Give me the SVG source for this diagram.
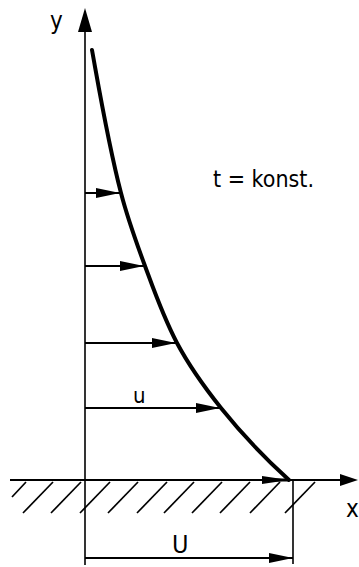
<svg xmlns="http://www.w3.org/2000/svg" width="359" height="567" viewBox="0 0 359 567">
<style>
.ax{stroke:#000;stroke-width:1.6;fill:none}
.vel{stroke:#000;stroke-width:2;fill:none}
.hatch{stroke:#000;stroke-width:1.7;fill:none}
.prof{stroke:#000;stroke-width:4;fill:none;stroke-linecap:round}
.lbl{font-family:"DejaVu Sans Condensed","DejaVu Sans",sans-serif;fill:#000}
</style>
<defs>
<marker id="ah" markerUnits="userSpaceOnUse" markerWidth="24" markerHeight="12" refX="24" refY="6" orient="auto"><path d="M0,1 L24,6 L0,11 Z" fill="#000"/></marker>
</defs>
<g id="connectors">
<line class="vel" x1="85" y1="193" x2="120" y2="193" marker-end="url(#ah)"/>
<line class="vel" x1="85" y1="266" x2="144" y2="266" marker-end="url(#ah)"/>
<line class="vel" x1="85" y1="343" x2="176" y2="343" marker-end="url(#ah)"/>
<line class="vel" x1="85" y1="408" x2="220" y2="408" marker-end="url(#ah)"/>
<line class="vel" x1="85" y1="558" x2="293" y2="558" marker-end="url(#ah)"/>
</g>
<g id="ground">
<line class="ax" x1="10" y1="480" x2="345" y2="480" style="stroke-width:2"/>
<polygon points="340,474 358,480 340,486" fill="#000"/>
<line x1="262" y1="480" x2="288" y2="480" stroke="#000" stroke-width="3"/>
<polygon points="262,476 289,480 262,484" fill="#000"/>
<g class="hatch">
<line x1="12" y1="497" x2="26" y2="482"/>
<line x1="23" y1="513" x2="53" y2="482"/>
<line x1="51" y1="513" x2="81" y2="482"/>
<line x1="80" y1="513" x2="110" y2="482"/>
<line x1="108" y1="513" x2="138" y2="482"/>
<line x1="137" y1="513" x2="167" y2="482"/>
<line x1="164" y1="513" x2="194" y2="482"/>
<line x1="192" y1="513" x2="222" y2="482"/>
<line x1="220" y1="513" x2="250" y2="482"/>
<line x1="250" y1="513" x2="280" y2="482"/>
<line x1="285" y1="513" x2="315" y2="482"/>
</g>
</g>
<g id="yaxis">
<line class="ax" x1="85" y1="28" x2="85" y2="565"/>
<polygon points="78,32 85,8 92,32" fill="#000"/>
</g>
<line id="ref" class="ax" x1="293" y1="480" x2="293" y2="564"/>
<g id="profile">
<path class="prof" d="M92,50 C100.6,97.7 108.6,145.3 121,193 C127.3,217.3 136,241.7 145,266 C154.5,291.7 163.4,317.3 177,343 C188.5,364.7 203.7,386.3 221,408 C240.2,432 262.6,456 289,480"/>
</g>
<g id="labels">
<text class="lbl" x="50" y="29" font-size="24">y</text>
<text class="lbl" x="346" y="517" font-size="24">x</text>
<text class="lbl" x="213" y="187" font-size="23">t = konst.</text>
<text class="lbl" x="133" y="403" font-size="22">u</text>
<text class="lbl" x="172" y="553" font-size="25">U</text>
</g>
</svg>
